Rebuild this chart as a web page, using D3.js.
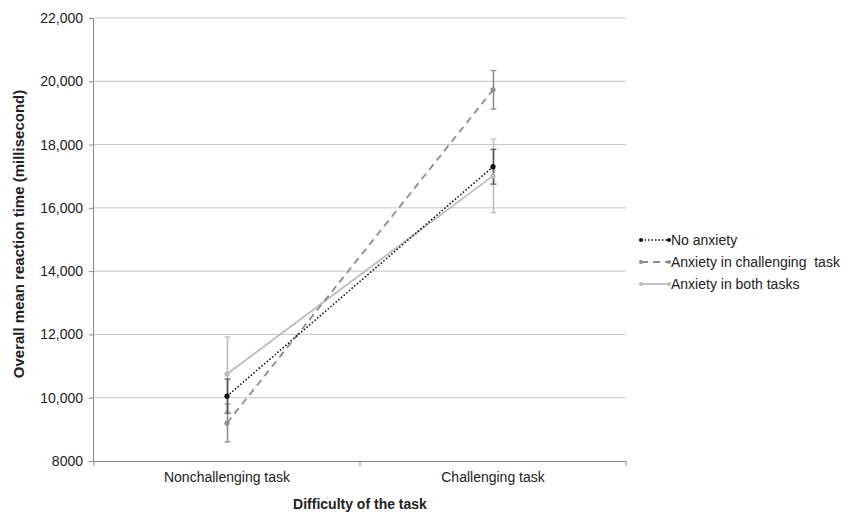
<!DOCTYPE html>
<html><head><meta charset="utf-8">
<script src="https://cdn.jsdelivr.net/npm/d3@7"></script>
<style>body{margin:0;background:#fff;font-family:"Liberation Sans",Arial,sans-serif;}</style>
</head><body><svg id="c" width="860" height="517"></svg>
<script>
const categories = ["Nonchallenging task", "Challenging task"];
const seriesNames = ["No anxiety", "Anxiety in challenging  task", "Anxiety in both tasks"];
const noAnxiety = [10050, 17300];
const noAnxietyErr = [540, 550];
const anxChallenging = [9200, 19730];
const anxChallengingErr = [600, 610];
const anxBoth = [10750, 17010];
const anxBothErr = [1170, 1160];
const yTicks = [8000, 10000, 12000, 14000, 16000, 18000, 20000, 22000];

const series = [
  {name: seriesNames[0], values: noAnxiety, err: noAnxietyErr, color: "#111", dash: "1.5,2", width: 1.6, bar: "#555"},
  {name: seriesNames[1], values: anxChallenging, err: anxChallengingErr, color: "#8c8c8c", dash: "7,5", width: 1.8, bar: "#8c8c8c"},
  {name: seriesNames[2], values: anxBoth, err: anxBothErr, color: "#bcbcbc", dash: null, width: 1.8, bar: "#bcbcbc"}
];

const FONT = "Liberation Sans, Arial, sans-serif";
const svg = d3.select("#c");
const L = 94, R = 626, T = 18, B = 461;
const x = d3.scaleBand().domain(categories).range([L, R]);
const y = d3.scaleLinear().domain([8000, 22000]).range([B, T]);
const fmt = v => v >= 10000 ? d3.format(",")(v) : String(v);

// gridlines
svg.append("g").selectAll("line").data(yTicks.filter(t => t > 8000)).join("line")
  .attr("x1", L).attr("x2", R).attr("y1", d => y(d)).attr("y2", d => y(d))
  .attr("stroke", "#c4c4c4").attr("stroke-width", 1);

// y axis
const ya = svg.append("g").attr("transform", `translate(${L},0)`)
  .call(d3.axisLeft(y).tickValues(yTicks).tickFormat(fmt).tickSize(5).tickPadding(6));
ya.select(".domain").attr("stroke", "#8a8a8a").attr("d", `M-0.5,${T}V${B}`);
ya.selectAll(".tick line").attr("stroke", "#8a8a8a");
ya.selectAll("text").attr("font-size", 14).attr("fill", "#222").attr("font-family", FONT);

// x axis
const xa = svg.append("g").attr("transform", `translate(0,${B})`)
  .call(d3.axisBottom(x).tickSize(0).tickPadding(11));
xa.select(".domain").attr("stroke", "#8a8a8a").attr("d", `M${L},0.5H${R}`);
xa.selectAll("text").attr("font-size", 14).attr("fill", "#222").attr("font-family", FONT);
svg.append("g").selectAll("line").data([L, (L + R) / 2, R]).join("line")
  .attr("x1", d => d).attr("x2", d => d).attr("y1", B).attr("y2", B + 5)
  .attr("stroke", "#8a8a8a");

const cx = c => x(c) + x.bandwidth() / 2;

// error bars
series.slice().reverse().forEach(s => {
  const g = svg.append("g");
  categories.forEach((c, i) => {
    const px = cx(c) + 0.5;
    const hi = y(s.values[i] + s.err[i]), lo = y(s.values[i] - s.err[i]);
    g.append("line").attr("x1", px).attr("x2", px).attr("y1", hi).attr("y2", lo).attr("stroke", s.bar).attr("stroke-width", 1.6);
    [hi, lo].forEach(yy => g.append("line").attr("x1", px - 3).attr("x2", px + 3).attr("y1", yy).attr("y2", yy).attr("stroke", s.bar).attr("stroke-width", 1.2));
  });
});

// lines
const line = d3.line().x((d, i) => cx(categories[i])).y(d => y(d));
series.slice().reverse().forEach(s => {
  svg.append("path").datum(s.values).attr("d", line).attr("fill", "none")
    .attr("stroke", s.color).attr("stroke-width", s.width)
    .attr("stroke-dasharray", s.dash);
  svg.append("g").selectAll("circle").data(s.values).join("circle")
    .attr("cx", (d, i) => cx(categories[i])).attr("cy", d => y(d)).attr("r", 2.6).attr("fill", s.color);
});

// axis titles
svg.append("text").attr("x", (L + R) / 2).attr("y", 509).attr("text-anchor", "middle")
  .attr("font-family", FONT).attr("font-size", 14).attr("font-weight", "bold").attr("fill", "#222").text("Difficulty of the task");
svg.append("text").attr("transform", `translate(24,234) rotate(-90)`).attr("text-anchor", "middle")
  .attr("font-family", FONT).attr("font-size", 15).attr("font-weight", "bold").attr("fill", "#222").text("Overall mean reaction time (millisecond)");

// legend
const lg = svg.append("g");
series.forEach((s, i) => {
  const yy = 240 + i * 22;
  lg.append("line").attr("x1", 641).attr("x2", 669).attr("y1", yy).attr("y2", yy)
    .attr("stroke", s.color).attr("stroke-width", s.width).attr("stroke-dasharray", s.dash);
  [641, 669].forEach(px => lg.append("circle").attr("cx", px).attr("cy", yy).attr("r", 2).attr("fill", s.color));
  lg.append("text").attr("x", 671).attr("y", yy + 5).attr("font-family", FONT).attr("font-size", 14).attr("fill", "#222")
    .style("white-space", "pre").text(s.name);
});
</script></body></html>
